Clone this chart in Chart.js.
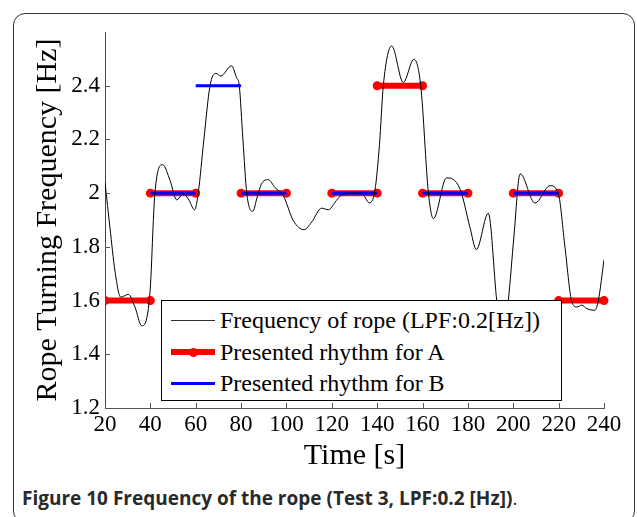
<!DOCTYPE html>
<html>
<head>
<meta charset="utf-8">
<script src="https://cdn.jsdelivr.net/npm/chart.js@4.4.1/dist/chart.umd.min.js"></script>
<style>
  html, body { margin: 0; padding: 0; background: #fff; }
  body { width: 637px; height: 517px; position: relative; overflow: hidden; }
  #frame {
    position: absolute; left: 13px; top: 13px; width: 622px; height: 510px;
    box-sizing: border-box; border: 1.5px solid #333; border-radius: 12px;
  }
  #ropeChart { position: absolute; left: 0; top: 0; }
  #legend {
    position: absolute; left: 161px; top: 300px; width: 401px; height: 101px;
    box-sizing: border-box; border: 1.5px solid #000; background: #fff;
    font-family: "Liberation Serif", "Times New Roman", serif; font-size: 24px; color: #000;
  }
  .row { position: absolute; left: 0; height: 30px; width: 100%; }
  .row span { position: absolute; left: 58px; top: 0; line-height: 30px; white-space: nowrap; }
  .sw { position: absolute; left: 9px; width: 44px; }
  .dot { position: absolute; left: 27px; width: 9px; height: 9px; border-radius: 50%; background: #ff0000; }
  #caption {
    position: absolute; left: 22px; top: 485px; white-space: nowrap;
    font-family: "Open Sans", sans-serif; font-weight: bold; font-size: 19px; color: #2a2a2a;
  }
  #caption .end { font-weight: normal; }
</style>
</head>
<body>
<div id="frame"></div>
<canvas id="ropeChart" width="637" height="480"></canvas>
<div id="legend">
  <div class="row" style="top:4px">
    <div class="sw" style="top:14.5px;height:1px;background:#333"></div>
    <span>Frequency of rope (LPF:0.2[Hz])</span>
  </div>
  <div class="row" style="top:36px">
    <div class="sw" style="top:12px;height:6px;background:#ff0000"></div>
    <div class="dot" style="top:10.5px"></div>
    <span>Presented rhythm for A</span>
  </div>
  <div class="row" style="top:67px">
    <div class="sw" style="top:13.5px;height:3px;background:#0000ff"></div>
    <span>Presented rhythm for B</span>
  </div>
</div>
<div id="caption">Figure 10 Frequency of the rope (Test 3, LPF:0.2 [Hz])<span class="end">.</span></div>

<script>
// rope frequency (time [s], frequency [Hz])
const timeSec = [20, 22.2, 24.4, 26.9, 30.3, 33.2, 36.2, 39.8, 42, 45.4,
    48.7, 51.6, 54.5, 56.7, 59.5, 61.1, 63.6, 66.3, 68.9, 71,
    75.8, 78, 79.2, 80.8, 82.5, 85.1, 87.1, 89, 92, 95,
    98.6, 103, 107.7, 111.1, 115.5, 118.5, 121.4, 123.6, 128, 133.1,
    136.6, 139, 141, 142.7, 146.4, 151.5, 156.2, 159.2, 162.6, 164.8,
    170.6, 176.5, 180.9, 183.7, 189, 192.7, 195, 197.8, 200.3, 203,
    209.6, 216.2, 219.9, 222.8, 225.7, 228, 230.2, 232.4, 236, 237.5,
    240];
const ropeFreq = [2.04, 1.87, 1.71, 1.613, 1.623, 1.576, 1.506, 1.627, 2.0, 2.106,
    2.047, 1.975, 1.997, 1.979, 1.938, 2.0, 2.2, 2.4, 2.446, 2.436,
    2.474, 2.43, 2.4, 2.2, 2.0, 1.932, 1.985, 2.035, 2.05, 2.02,
    1.991, 1.898, 1.864, 1.892, 1.944, 1.938, 1.966, 1.988, 2.0, 2.0,
    1.964, 2.01, 2.18, 2.4, 2.548, 2.412, 2.499, 2.4, 2.0, 1.905,
    2.057, 2.016, 1.873, 1.79, 1.925, 1.6, 1.45, 1.6, 1.84, 2.072,
    1.963, 2.028, 1.997, 1.798, 1.6, 1.576, 1.583, 1.570, 1.564, 1.6,
    1.752];

// presented rhythms: each block lasts 20 s
const blockLength = 20;
const rhythmAStart = [20, 40, 80, 120, 140, 160, 200, 220];
const rhythmAFreq = [1.6, 2.0, 2.0, 2.0, 2.4, 2.0, 2.0, 1.6];
const rhythmBStart = [40, 60, 80, 120, 160, 200];
const rhythmBFreq = [2.0, 2.4, 2.0, 2.0, 2.0, 2.0];

const xTicks = [20, 40, 60, 80, 100, 120, 140, 160, 180, 200, 220, 240];

// segments separated by null so the line breaks between blocks
function blocks(starts, freqs) {
    const out = [];
    starts.forEach((s, i) => {
        out.push({ x: s, y: freqs[i] });
        out.push({ x: s + blockLength, y: freqs[i] });
        out.push({ x: s + blockLength, y: null });
    });
    return out;
}

// MATLAB style ticks pointing into the plot
const inwardTicks = {
    id: 'inwardTicks',
    afterDraw(chart) {
        const { ctx, chartArea, scales } = chart;
        ctx.save();
        ctx.strokeStyle = '#555';
        ctx.lineWidth = 1;
        ctx.beginPath();
        scales.x.ticks.forEach(t => {
            const px = Math.round(scales.x.getPixelForValue(t.value)) + 0.5;
            ctx.moveTo(px, chartArea.bottom);
            ctx.lineTo(px, chartArea.bottom - 5);
        });
        scales.y.ticks.forEach(t => {
            if (t.value > 2.59) return;
            const py = Math.round(scales.y.getPixelForValue(t.value)) + 0.5;
            ctx.moveTo(chartArea.left, py);
            ctx.lineTo(chartArea.left + 5, py);
        });
        ctx.stroke();
        ctx.restore();
    }
};

const serifFamily = '"Liberation Serif", "Times New Roman", serif';
Chart.defaults.font.family = serifFamily;
Chart.defaults.color = '#000';

new Chart(document.getElementById('ropeChart'), {
    type: 'line',
    data: {
        datasets: [{
            label: 'Frequency of rope (LPF:0.2[Hz])',
            data: timeSec.map((t, i) => ({ x: t, y: ropeFreq[i] })),
            borderColor: '#000',
            borderWidth: 1,
            pointRadius: 0,
            cubicInterpolationMode: 'monotone'
        }, {
            label: 'Presented rhythm for B',
            data: blocks(rhythmBStart, rhythmBFreq),
            borderColor: '#0000ff',
            borderWidth: 3,
            pointRadius: 0,
            spanGaps: false
        }, {
            label: 'Presented rhythm for A',
            data: blocks(rhythmAStart, rhythmAFreq),
            borderColor: '#ff0000',
            borderWidth: 6,
            pointRadius: 4.5,
            pointBorderWidth: 0,
            pointBackgroundColor: '#ff0000',
            spanGaps: false,
            clip: { left: 0, top: false, right: false, bottom: false }
        }]
    },
    options: {
        responsive: false,
        animation: false,
        devicePixelRatio: 1,
        layout: { padding: { left: 0, top: 32, right: 33, bottom: 0 } },
        plugins: {
            legend: { display: false },
            tooltip: { enabled: false }
        },
        scales: {
            x: {
                type: 'linear',
                min: 20,
                max: 240,
                afterFit(scale) { scale.height = 72; },
                afterBuildTicks(scale) { scale.ticks = xTicks.map(v => ({ value: v })); },
                grid: { display: false, drawTicks: false },
                border: { display: true, color: '#555', width: 1 },
                ticks: {
                    color: '#000',
                    padding: 3,
                    maxRotation: 0,
                    autoSkip: false,
                    font: { family: serifFamily, size: 23 }
                },
                title: {
                    display: true,
                    text: 'Time [s]',
                    color: '#000',
                    padding: { top: 0, bottom: 6 },
                    font: { family: serifFamily, size: 30 }
                }
            },
            y: {
                min: 1.2,
                max: 2.6,
                afterFit(scale) { scale.width = 105; },
                grid: { display: false, drawTicks: false },
                border: { display: true, color: '#444', width: 1 },
                ticks: {
                    stepSize: 0.2,
                    color: '#000',
                    padding: 5,
                    font: { family: serifFamily, size: 23 },
                    callback: v => (v > 2.59 ? '' : String(Math.round(v * 10) / 10))
                },
                title: {
                    display: true,
                    text: 'Rope Turning Frequency [Hz]',
                    color: '#000',
                    padding: { top: 30, bottom: 0 },
                    font: { family: serifFamily, size: 30 }
                }
            }
        }
    },
    plugins: [inwardTicks]
});
</script>
</body>
</html>
